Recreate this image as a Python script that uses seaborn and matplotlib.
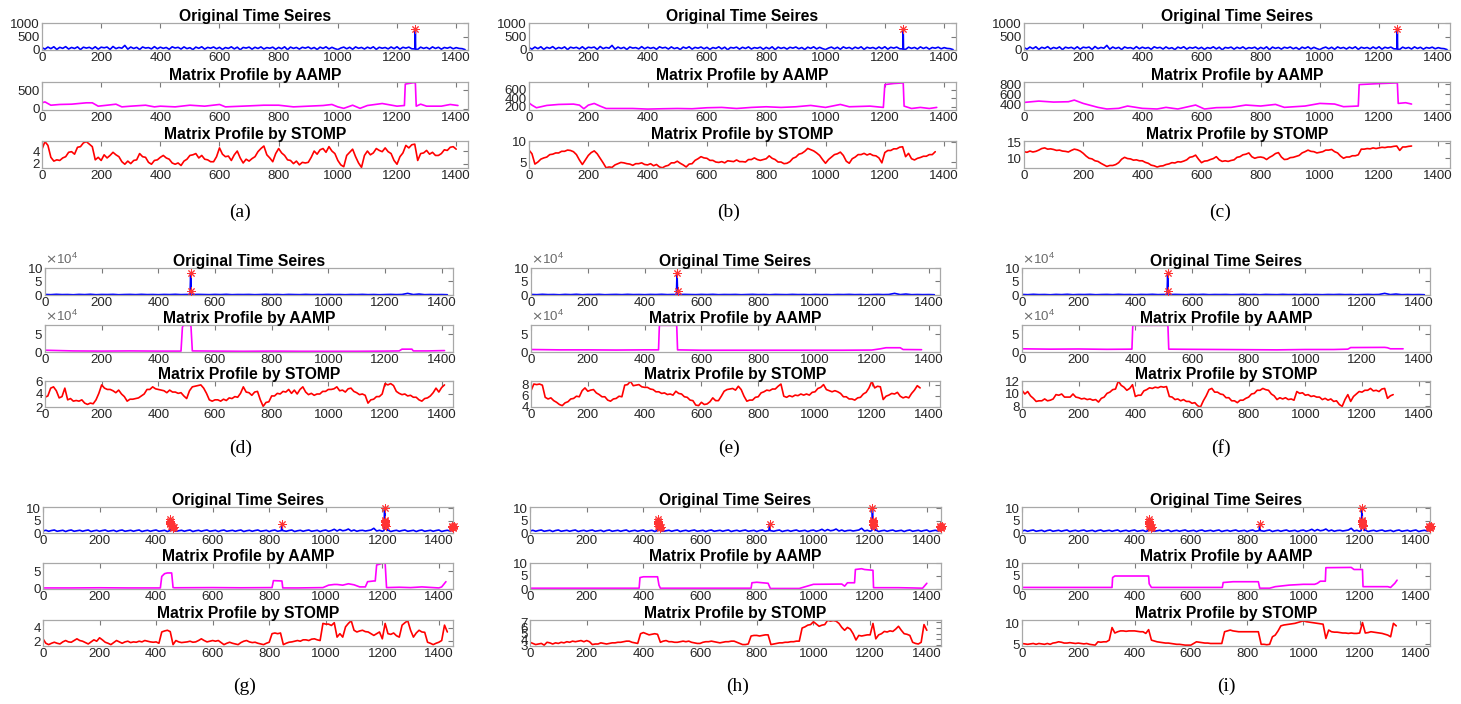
import numpy as np
import pandas as pd
import matplotlib
matplotlib.use("Agg")
import matplotlib.pyplot as plt
import seaborn as sns
from matplotlib.ticker import ScalarFormatter

# ---------------- data ----------------
# Original series 1 (panels a-c), sampled every 10 steps
ts1_y = [90, 30, 110, 50, 120, 20, 100, 60, 125, 35, 95, 55, 115, 15, 105, 70, 100, 40, 120, 30,
         105, 80, 110, 20, 130, 50, 95, 65, 170, 30, 110, 55, 100, 18, 112, 70, 90, 40, 125, 45,
         105, 60, 95, 25, 118, 72, 100, 35, 115, 50, 88, 15, 108, 62, 120, 32, 98, 66, 112, 44,
         100, 22, 92, 58, 118, 40, 105, 8, 96, 70, 108, 30, 102, 55, 115, 36, 90, 64, 106, 26,
         98, 44, 118, 12, 108, 58, 96, 32, 102, 68, 112, 44, 94, 18, 106, 58, 118, 38, 100, 50,
         15, 72, 108, 44, 102, 26, 115, 62, 96, 36, 106, 56, 118, 22, 102, 64, 94, 40, 112, 50,
         120, 30, 102, 68, 108, 44, 100, 22, 106, 58, 96, 36, 115, 56, 102, 30, 94, 66, 106, 44,
         88, 58, 50, 15]
ts1_spike_x = [1261, 1262, 1263]
ts1_spike_y = [40, 780, 30]
ts1_star_x = [1262]
ts1_star_y = [780]

# Original series 2 (panels d-f), sampled every 20 steps
ts2_y = [2000, 1200, 2500, 1500, 1800, 900, 2200, 1400, 2600, 1100, 1900, 1600, 2300, 1000, 1700, 2100, 1300, 2400, 1500, 1800,
         1200, 2000, 1600, 2500, 1400, 1900, 1000, 2200, 1700, 1300, 2100, 1500, 2400, 1200, 1800, 1600, 2000, 1100, 1700, 2300,
         1400, 1900, 1000, 2100, 1600, 1300, 2200, 1500, 1800, 1200, 2000, 1400, 1700, 1100, 1900, 1500, 2200, 1300, 1800, 1000,
         1600, 2100, 1400, 1900, 6000, 1500, 3500, 1200, 1800, 1300, 1600, 1000]
ts2_spike_x = [512, 514, 516, 518]
ts2_spike_y = [1500, 80000, 16000, 1500]
ts2_star_x = [514, 516]
ts2_star_y = [80000, 16000]

# Original series 3 (panels g-i), sampled every 10 steps
ts3_y = [0.8, 1.1, 0.7, 1.0, 1.2, 0.7, 0.9, 1.1, 0.6, 1.0, 1.2, 0.7, 0.9, 1.1, 0.7, 1.0, 1.2, 0.6, 0.9, 1.1,
         0.7, 1.0, 1.2, 0.7, 0.9, 1.1, 0.6, 1.0, 1.2, 0.7, 0.9, 1.1, 0.7, 1.0, 1.2, 0.6, 0.9, 1.1, 0.7, 1.0,
         1.2, 0.7, 0.9, 1.1, 0.6, 1.0, 1.2, 0.7, 0.9, 1.1, 0.7, 1.0, 1.2, 0.6, 0.9, 1.1, 0.7, 1.0, 1.2, 0.7,
         0.9, 1.1, 0.6, 1.0, 1.2, 0.7, 0.9, 1.1, 0.7, 1.0, 1.2, 0.6, 0.9, 1.1, 0.7, 1.0, 1.2, 0.7, 0.9, 1.1,
         0.6, 1.0, 1.2, 0.7, 0.9, 1.1, 0.7, 1.0, 1.2, 0.6, 0.9, 1.1, 0.7, 1.0, 1.2, 0.7, 0.9, 1.1, 0.6, 1.0,
         1.2, 0.7, 1.0, 1.5, 0.8, 1.4, 0.9, 1.1, 1.6, 0.8, 1.2, 0.7, 1.0, 1.1, 0.8, 1.0, 1.2, 1.9, 0.8, 1.1,
         0.7, 1.0, 1.2, 0.6, 0.9, 1.1, 0.7, 1.0, 1.2, 0.7, 0.9, 1.1, 0.6, 1.0, 1.2, 0.7, 0.9, 1.1, 0.7, 1.0,
         1.2, 0.6, 0.9, 1.1, 0.8]
ts3_spike_x = [449, 450, 451, 455, 457, 460, 462, 843, 845, 847, 1206, 1208, 1210, 1212, 1214, 1216, 1446, 1448]
ts3_spike_y = [1.0, 5.5, 1.0, 2.8, 1.0, 2.5, 1.0, 1.0, 3.8, 1.0, 1.0, 10.2, 5.0, 3.5, 3.0, 1.0, 1.0, 2.8]
ts3_star_x = [450, 450, 450, 450, 450, 452, 455, 458, 460, 462, 845,
              1208, 1209, 1209, 1210, 1210, 1211, 1212, 1446, 1448, 1450, 1452, 1449, 1451]
ts3_star_y = [5.5, 5.0, 4.5, 4.0, 3.5, 3.0, 2.8, 2.5, 2.2, 2.5, 3.8,
              10.2, 5.2, 4.8, 4.3, 3.8, 3.3, 2.8, 2.6, 2.9, 2.5, 2.8, 2.2, 2.4]

# AAMP matrix profiles (breakpoints)
a_aamp_x = [0, 10, 30, 60, 100, 150, 170, 190, 220, 250, 270, 300, 350, 380, 400, 450, 500, 550, 600, 620, 700, 750,
            800, 850, 900, 950, 980, 1000, 1020, 1050, 1075, 1100, 1150, 1200, 1225, 1228, 1255, 1262, 1265, 1280,
            1300, 1350, 1380, 1406]
a_aamp_y = [155, 180, 90, 110, 118, 155, 155, 64, 90, 118, 45, 64, 90, 45, 64, 45, 90, 64, 110, 45, 72, 90,
            90, 45, 64, 82, 110, 45, 5, 90, 5, 82, 136, 64, 82, 664, 700, 700, 64, 118,
            64, 64, 110, 82]
b_aamp_x = [0, 10, 25, 40, 60, 100, 150, 170, 185, 200, 220, 240, 260, 300, 350, 400, 450, 500, 550, 600,
            650, 700, 750, 800, 850, 900, 950, 1000, 1050, 1080, 1150, 1195, 1200, 1230, 1262, 1265, 1290, 1320,
            1350, 1375]
b_aamp_y = [290, 238, 177, 200, 231, 254, 262, 238, 154, 238, 277, 215, 160, 160, 160, 146, 154, 160, 154, 177,
            185, 160, 185, 200, 185, 200, 231, 185, 254, 200, 215, 185, 715, 740, 754, 215, 160, 185,
            160, 185]
c_aamp_x = [0, 50, 100, 150, 170, 200, 250, 280, 320, 350, 400, 450, 480, 520, 580, 610, 650, 700, 750, 800,
            850, 880, 950, 1000, 1050, 1080, 1130, 1133, 1200, 1262, 1265, 1290, 1310]
c_aamp_y = [433, 460, 440, 447, 480, 413, 333, 300, 313, 360, 313, 300, 333, 300, 380, 300, 327, 333, 380, 360,
            393, 333, 360, 413, 400, 347, 360, 793, 813, 827, 413, 427, 400]
d_aamp_x = [0, 50, 100, 200, 300, 400, 480, 485, 488, 512, 515, 520, 600, 700, 800, 900, 1000, 1100, 1200, 1250,
            1260, 1295, 1300, 1350, 1410]
d_aamp_y = [5000, 4000, 3000, 2500, 3000, 2500, 2500, 70000, 75000, 75000, 75000, 3000, 2500, 2000, 2500, 2000, 2000,
            2000, 2500, 3000, 8000, 8000, 3000, 3000, 4000]
e_aamp_x = [0, 100, 200, 300, 400, 449, 452, 513, 516, 600, 700, 800, 900, 1000, 1100, 1200, 1230, 1250, 1300,
            1310, 1375]
e_aamp_y = [7000, 6000, 6000, 5500, 6000, 6000, 75000, 75000, 6000, 5000, 5000, 5000, 5000, 5000, 5000, 5500, 9000,
            12000, 12000, 7000, 6500]
f_aamp_x = [0, 100, 200, 300, 385, 388, 391, 515, 518, 600, 700, 800, 900, 1000, 1100, 1150, 1160, 1280, 1290,
            1300, 1345]
f_aamp_y = [9000, 8000, 8500, 7500, 8000, 8000, 75000, 75000, 8000, 7500, 7000, 6500, 6000, 7000, 7000, 8000, 12500,
            13000, 12000, 9000, 9000]
g_aamp_x = [0, 100, 200, 300, 415, 420, 430, 440, 455, 460, 465, 600, 700, 810, 815, 845, 848, 900, 990, 1010,
            1030, 1040, 1060, 1080, 1100, 1120, 1140, 1148, 1170, 1175, 1180, 1190, 1200, 1210, 1215, 1260, 1300,
            1340, 1400, 1410, 1425]
g_aamp_y = [0.2, 0.2, 0.25, 0.2, 0.2, 3.5, 4.3, 4.5, 4.5, 0.3, 0.25, 0.3, 0.25, 0.3, 2.3, 2.2, 0.2, 0.2, 0.3, 1.0,
            1.2, 1.2, 1.0, 1.4, 1.1, 0.5, 0.5, 2.0, 2.2, 2.2, 6.8, 7.0, 7.3, 7.3, 0.3, 0.4, 0.3,
            0.5, 0.2, 0.5, 2.0]
h_aamp_x = [0, 200, 385, 388, 400, 450, 455, 460, 600, 780, 783, 800, 840, 848, 950, 1000, 1100, 1110, 1120, 1145,
            1148, 1170, 1180, 1210, 1212, 1300, 1350, 1385, 1400]
h_aamp_y = [0.3, 0.3, 0.3, 4.4, 4.7, 4.7, 1.5, 0.3, 0.3, 0.3, 2.4, 2.6, 2.2, 0.2, 0.2, 1.8, 1.9, 1.1, 2.4, 2.4,
            7.5, 7.8, 7.5, 7.2, 0.5, 0.5, 0.4, 0.3, 2.2]
i_aamp_x = [0, 200, 320, 322, 330, 450, 452, 460, 600, 712, 715, 750, 840, 845, 880, 900, 950, 1000, 1040, 1050,
            1060, 1078, 1080, 1170, 1180, 1210, 1212, 1300, 1310, 1325, 1333]
i_aamp_y = [0.6, 0.6, 0.6, 4.4, 5.0, 5.0, 2.0, 0.6, 0.6, 0.6, 2.5, 2.8, 2.8, 0.3, 0.3, 0.9, 1.5, 1.8, 1.8, 2.2,
            3.0, 3.0, 8.2, 8.3, 7.5, 7.5, 0.9, 0.9, 0.6, 2.2, 3.4]

# STOMP matrix profiles, sampled every 10 steps from index 0
a_stomp_y = [4.3, 5.5, 4.9, 3.0, 2.4, 2.6, 2.5, 2.9, 3.1, 3.8,
             3.9, 3.5, 4.6, 4.7, 5.3, 5.5, 5.1, 4.7, 2.6, 3.0,
             2.5, 3.4, 2.9, 3.3, 3.8, 3.4, 3.1, 2.3, 1.9, 2.4,
             2.0, 2.5, 2.6, 3.6, 3.1, 3.0, 2.2, 1.9, 2.5, 2.6,
             3.0, 3.3, 2.9, 2.7, 2.1, 1.9, 2.1, 1.7, 2.4, 2.7,
             3.3, 3.4, 3.6, 2.9, 3.3, 2.7, 2.6, 2.3, 2.3, 3.1,
             4.5, 3.5, 3.1, 3.2, 2.5, 3.4, 4.0, 2.9, 2.1, 2.7,
             2.4, 2.8, 3.1, 3.9, 4.4, 4.8, 3.4, 2.9, 2.3, 3.6,
             4.4, 3.7, 3.3, 2.6, 2.5, 2.0, 2.4, 1.8, 2.2, 2.1,
             2.2, 3.0, 4.0, 3.5, 4.2, 4.4, 3.8, 4.7, 4.0, 3.6,
             2.5, 1.8, 1.5, 3.3, 3.8, 4.3, 3.1, 2.1, 1.4, 3.3,
             4.0, 3.4, 3.7, 4.4, 4.1, 3.9, 4.5, 3.9, 3.6, 2.5,
             1.9, 3.1, 3.7, 4.9, 4.5, 5.0, 5.1, 2.5, 3.6, 3.7,
             4.1, 3.5, 3.8, 3.3, 3.3, 3.6, 4.2, 4.1, 4.6, 4.7,
             4.3]
b_stomp_y = [8.0, 7.1, 4.6, 5.1, 5.8, 6.1, 6.3, 6.9, 7.0, 7.3,
             7.3, 7.7, 7.7, 8.0, 7.9, 7.6, 6.9, 5.6, 4.5, 5.6,
             6.7, 7.4, 7.8, 7.1, 6.0, 4.9, 3.7, 3.9, 3.8, 4.4,
             4.7, 5.0, 4.9, 4.7, 4.6, 4.3, 4.7, 4.7, 4.9, 4.5,
             4.4, 4.7, 4.2, 4.5, 3.9, 3.7, 4.1, 4.3, 4.9, 4.9,
             5.3, 4.8, 4.4, 3.9, 4.6, 4.7, 5.5, 5.9, 6.4, 6.1,
             6.0, 5.5, 5.5, 5.1, 5.0, 5.2, 4.9, 5.4, 5.3, 5.2,
             5.6, 5.2, 5.2, 5.1, 5.7, 5.7, 6.1, 5.7, 5.5, 5.7,
             5.9, 6.6, 6.0, 5.7, 5.1, 5.1, 4.7, 4.8, 5.2, 6.0,
             6.3, 7.0, 7.2, 7.7, 8.4, 8.1, 7.8, 7.3, 6.7, 5.7,
             4.8, 5.7, 6.3, 6.9, 7.1, 7.5, 6.7, 5.3, 4.8, 5.9,
             6.3, 6.9, 6.9, 7.2, 6.8, 7.1, 6.7, 6.6, 6.1, 4.9,
             7.4, 7.9, 7.9, 8.3, 8.3, 8.7, 8.8, 6.4, 7.2, 5.9,
             5.6, 6.0, 6.2, 6.5, 6.5, 6.9, 6.9, 7.6]
c_stomp_y = [12.1, 11.9, 12.3, 12.0, 12.2, 12.6, 13.1, 13.3, 12.9, 13.0,
             12.8, 12.5, 12.6, 12.3, 12.2, 12.0, 12.5, 12.9, 12.7, 12.3,
             11.6, 10.7, 10.0, 9.8, 9.2, 9.0, 8.4, 7.9, 7.4, 7.7,
             7.7, 8.0, 8.6, 9.7, 10.3, 9.9, 9.8, 9.4, 9.5, 9.2,
             9.2, 8.7, 8.4, 7.8, 7.6, 7.2, 7.5, 7.6, 8.0, 8.2,
             8.6, 8.5, 8.9, 8.8, 9.1, 9.5, 10.3, 10.5, 11.0, 9.7,
             8.6, 9.1, 9.2, 9.6, 9.9, 10.5, 9.5, 9.0, 9.2, 9.0,
             9.3, 9.5, 10.3, 10.5, 11.1, 11.3, 11.7, 10.5, 10.0, 10.3,
             10.4, 10.2, 9.6, 10.3, 10.8, 11.5, 11.8, 10.4, 9.6, 9.7,
             10.2, 10.3, 10.6, 10.9, 11.7, 12.1, 12.6, 12.2, 12.1, 11.7,
             11.9, 12.1, 12.6, 12.6, 12.8, 12.1, 11.7, 10.7, 10.0, 10.4,
             10.4, 10.8, 10.8, 11.1, 12.9, 12.9, 13.1, 13.0, 13.3, 13.1,
             13.3, 13.5, 13.4, 13.6, 13.6, 13.8, 13.9, 12.5, 13.6, 13.6,
             13.8, 13.9]
d_stomp_y = [3.5, 3.7, 4.9, 5.1, 4.5, 3.4, 3.6, 4.9, 3.1, 3.3,
             2.9, 3.0, 2.9, 3.1, 2.6, 2.4, 2.6, 2.5, 3.1, 4.1,
             5.4, 4.9, 4.7, 4.7, 4.5, 4.2, 4.6, 4.0, 3.6, 2.9,
             3.2, 3.2, 3.3, 3.4, 3.7, 4.0, 4.7, 4.7, 5.1, 4.8,
             4.7, 4.6, 4.5, 4.2, 4.6, 4.3, 4.3, 4.1, 4.2, 3.7,
             3.3, 4.5, 5.1, 5.2, 5.3, 5.4, 4.9, 4.1, 3.1, 2.9,
             3.1, 3.1, 2.9, 3.2, 3.0, 3.4, 3.3, 3.6, 3.5, 4.1,
             5.1, 4.3, 4.2, 3.8, 4.3, 4.4, 3.1, 2.1, 2.7, 2.8,
             3.7, 3.7, 4.1, 4.0, 4.4, 4.3, 4.7, 4.1, 4.6, 4.0,
             4.7, 5.1, 4.3, 3.9, 4.1, 3.8, 4.0, 4.0, 4.4, 4.4,
             4.7, 4.7, 4.8, 5.1, 4.5, 4.6, 4.3, 4.8, 4.9, 4.4,
             4.2, 3.9, 4.0, 3.8, 2.6, 3.1, 3.2, 3.6, 3.6, 4.0,
             5.6, 5.4, 5.6, 5.3, 4.4, 4.1, 3.9, 4.0, 3.7, 3.8,
             3.5, 3.5, 3.1, 2.9, 3.3, 3.4, 3.7, 4.2, 4.9, 4.3,
             5.0, 5.4]
e_stomp_y = [6.9, 8.1, 8.0, 8.1, 7.9, 5.7, 5.4, 5.6, 5.1, 4.8,
             4.4, 4.2, 4.7, 4.9, 5.4, 5.5, 5.9, 5.8, 6.9, 7.4,
             6.8, 7.0, 7.1, 6.5, 6.2, 5.8, 5.8, 5.2, 5.0, 5.4,
             5.5, 5.9, 5.8, 7.9, 8.0, 8.6, 7.8, 7.9, 8.0, 7.6,
             7.5, 7.5, 7.2, 7.1, 6.7, 6.7, 6.4, 6.5, 6.2, 6.3,
             6.1, 6.8, 6.4, 6.3, 5.8, 5.7, 5.2, 5.1, 4.3, 4.2,
             4.8, 4.4, 4.5, 4.9, 5.6, 5.1, 5.1, 5.9, 6.8, 7.1,
             7.2, 7.3, 7.0, 7.7, 7.1, 5.9, 5.0, 5.2, 5.2, 5.7,
             5.8, 6.5, 6.7, 7.0, 6.9, 7.2, 7.2, 7.7, 8.1, 5.9,
             5.7, 6.0, 5.8, 6.1, 6.0, 6.3, 6.1, 6.3, 6.1, 6.6,
             6.7, 7.3, 7.5, 8.0, 7.1, 6.9, 6.7, 6.9, 6.7, 6.4,
             5.8, 5.8, 5.4, 5.4, 5.2, 5.6, 5.7, 6.3, 6.6, 7.4,
             8.6, 7.4, 7.7, 7.6, 5.3, 5.9, 6.1, 6.4, 6.3, 6.6,
             5.9, 5.6, 5.8, 5.6, 6.4, 7.0, 7.8, 7.4]
f_stomp_y = [10.6, 10.0, 10.4, 9.7, 9.3, 8.8, 8.9, 8.9, 9.2, 8.9,
             9.0, 9.2, 9.9, 9.8, 10.0, 9.5, 9.5, 9.5, 10.0, 9.5,
             9.4, 9.2, 9.3, 9.1, 9.2, 9.0, 9.1, 8.7, 9.3, 9.5,
             10.1, 10.3, 10.7, 10.8, 12.1, 11.4, 11.1, 10.6, 10.9, 11.5,
             9.6, 9.8, 9.8, 10.5, 10.7, 11.0, 10.9, 11.1, 11.0, 11.2,
             11.1, 11.2, 9.6, 9.5, 9.1, 9.2, 8.9, 9.1, 8.8, 8.8,
             8.5, 8.6, 8.1, 7.9, 8.9, 9.7, 10.7, 10.9, 10.3, 10.3,
             10.0, 9.9, 9.4, 9.4, 8.9, 8.9, 8.6, 9.0, 9.0, 9.3,
             9.5, 10.0, 10.1, 10.6, 10.6, 10.9, 10.7, 10.6, 10.0, 9.7,
             9.1, 9.4, 9.2, 9.4, 9.1, 9.2, 9.0, 10.4, 10.1, 10.2,
             9.8, 9.9, 9.6, 9.7, 9.5, 9.5, 9.1, 9.3, 9.0, 9.2,
             8.8, 8.9, 8.3, 8.0, 9.1, 9.9, 8.8, 9.6, 10.0, 10.4,
             10.3, 10.6, 10.6, 10.9, 10.5, 10.6, 10.4, 10.8, 10.9, 9.3,
             9.7, 9.9]
g_stomp_y = [2.35, 1.7, 1.5, 1.7, 1.85, 1.7, 1.6, 1.9, 2.1, 1.9,
             1.85, 2.1, 2.35, 2.1, 2.0, 1.8, 1.6, 1.9, 2.2, 2.0,
             2.5, 2.2, 1.85, 1.7, 1.5, 1.8, 2.1, 1.9, 1.7, 1.9,
             2.0, 1.8, 1.9, 1.85, 2.0, 1.9, 2.1, 2.0, 1.9, 1.85,
             1.9, 1.7, 3.35, 3.5, 3.6, 3.4, 1.5, 2.1, 1.9, 1.8,
             1.85, 1.9, 2.0, 1.85, 1.9, 2.1, 2.35, 2.1, 1.9, 2.0,
             2.1, 2.0, 2.1, 1.8, 1.5, 1.7, 1.85, 1.7, 1.6, 1.5,
             1.8, 2.0, 2.1, 1.9, 1.8, 1.85, 1.7, 1.6, 1.5, 1.7,
             1.85, 3.1, 3.2, 3.1, 3.2, 1.5, 1.7, 1.85, 1.9, 2.0,
             2.1, 2.0, 2.2, 2.2, 2.1, 2.3, 2.35, 2.2, 2.1, 4.6,
             4.5, 4.5, 4.3, 4.7, 2.6, 3.1, 2.6, 4.1, 4.6, 5.0,
             3.6, 3.35, 3.5, 3.6, 3.4, 3.35, 3.1, 2.85, 3.1, 3.35,
             2.35, 4.6, 3.1, 3.0, 3.2, 2.8, 2.6, 4.35, 4.7, 5.0,
             3.6, 2.6, 3.2, 3.6, 3.35, 3.3, 1.85, 1.7, 1.5, 1.7,
             1.85, 2.1, 4.35, 3.35]
h_stomp_y = [3.5, 3.3, 3.1, 3.2, 3.3, 3.0, 3.5, 3.4, 3.2, 3.4,
             3.3, 3.5, 3.4, 3.6, 3.5, 3.7, 3.6, 3.7, 3.8, 3.6,
             3.8, 3.6, 3.1, 3.2, 3.2, 3.4, 3.3, 3.2, 3.3, 3.4,
             3.4, 3.5, 3.5, 3.6, 3.7, 3.7, 3.5, 3.4, 3.3, 5.0,
             5.2, 5.0, 4.8, 4.9, 5.0, 4.9, 3.5, 3.7, 3.8, 3.6,
             3.6, 3.5, 3.5, 3.6, 3.7, 3.6, 3.7, 3.5, 3.4, 3.3,
             3.3, 3.5, 3.6, 3.6, 3.7, 3.6, 3.5, 3.4, 3.5, 3.6,
             3.6, 3.7, 3.7, 3.5, 3.3, 3.1, 3.1, 3.2, 4.6, 4.7,
             4.7, 4.6, 4.7, 4.8, 4.8, 3.1, 3.2, 3.3, 3.4, 3.4,
             3.5, 3.5, 3.6, 3.6, 3.7, 3.7, 6.0, 6.2, 6.5, 6.6,
             7.1, 6.7, 6.3, 6.5, 6.6, 7.35, 7.2, 7.3, 7.2, 6.8,
             6.1, 5.6, 6.1, 5.8, 5.0, 3.9, 4.7, 4.6, 4.7, 4.8,
             4.8, 6.8, 4.1, 4.8, 5.0, 5.4, 5.3, 5.5, 5.4, 5.8,
             6.3, 5.6, 5.0, 4.9, 4.7, 3.5, 3.3, 3.2, 3.5, 6.6,
             5.6]
i_stomp_y = [5.2, 5.1, 5.0, 5.1, 5.2, 5.0, 5.2, 5.1, 5.0, 5.2,
             5.0, 5.3, 5.4, 5.6, 5.5, 5.3, 5.3, 5.4, 5.3, 5.2,
             5.3, 5.2, 5.1, 5.2, 5.0, 4.9, 4.8, 5.6, 5.5, 5.6,
             5.6, 6.0, 9.0, 7.7, 8.0, 8.2, 8.2, 8.1, 8.2, 8.2,
             8.2, 8.1, 8.0, 8.0, 7.6, 8.5, 6.0, 5.8, 5.6, 5.5,
             5.4, 5.3, 5.3, 5.2, 5.1, 5.0, 5.0, 4.9, 4.8, 4.8,
             4.8, 5.2, 5.6, 5.5, 5.4, 5.3, 5.3, 5.2, 5.2, 5.2,
             5.2, 5.2, 8.0, 8.2, 8.4, 8.2, 8.1, 8.0, 8.0, 8.0,
             8.0, 8.0, 8.0, 8.0, 8.0, 5.0, 5.0, 4.9, 5.0, 6.8,
             7.2, 8.2, 9.4, 9.6, 9.7, 9.8, 9.9, 10.0, 10.2, 10.4,
             10.6, 10.4, 10.3, 10.2, 10.1, 10.0, 9.9, 9.8, 6.4, 8.4,
             8.0, 7.9, 7.9, 7.8, 7.7, 7.7, 7.6, 7.7, 7.6, 7.6,
             7.7, 10.2, 7.7, 7.8, 8.0, 7.9, 7.8, 7.7, 7.6, 7.4,
             7.2, 6.8, 10.0, 9.4]
STOMP_STEP = 10

titles = ["Original Time Seires", "Matrix Profile by AAMP", "Matrix Profile by STOMP"]
captions = ["(a)", "(b)", "(c)", "(d)", "(e)", "(f)", "(g)", "(h)", "(i)"]
xtick_vals = [0, 200, 400, 600, 800, 1000, 1200, 1400]

# ---------------- build series ----------------
def merge(base_y, step, sx, sy):
    bx = list(np.arange(len(base_y)) * step)
    pts = [(x, y) for x, y in zip(bx, base_y) if min(abs(x - s) for s in sx) > 3]
    pts += list(zip(sx, sy))
    pts.sort(key=lambda p: p[0])
    return [p[0] for p in pts], [p[1] for p in pts]

ts1_x_all, ts1_y_all = merge(ts1_y, 10, ts1_spike_x, ts1_spike_y)
ts2_x_all, ts2_y_all = merge(ts2_y, 20, ts2_spike_x, ts2_spike_y)
ts3_x_all, ts3_y_all = merge(ts3_y, 10, ts3_spike_x, ts3_spike_y)

orig = [(ts1_x_all, ts1_y_all, ts1_star_x, ts1_star_y),
        (ts2_x_all, ts2_y_all, ts2_star_x, ts2_star_y),
        (ts3_x_all, ts3_y_all, ts3_star_x, ts3_star_y)]
aamp = [(a_aamp_x, a_aamp_y), (b_aamp_x, b_aamp_y), (c_aamp_x, c_aamp_y),
        (d_aamp_x, d_aamp_y), (e_aamp_x, e_aamp_y), (f_aamp_x, f_aamp_y),
        (g_aamp_x, g_aamp_y), (h_aamp_x, h_aamp_y), (i_aamp_x, i_aamp_y)]
stomp_ys = [a_stomp_y, b_stomp_y, c_stomp_y, d_stomp_y, e_stomp_y, f_stomp_y, g_stomp_y, h_stomp_y, i_stomp_y]
stomp = [(list(np.arange(len(v)) * STOMP_STEP), v) for v in stomp_ys]

ylims = [
    [(0, 1000), (-40, 720), (1.3, 5.6)],
    [(0, 1000), (125, 775), (3.65, 10.2)],
    [(0, 1000), (280, 845), (6.9, 15.5)],
    [(0, 100000), (0, 76000), (2.0, 6.0)],
    [(0, 100000), (0, 76000), (3.95, 8.65)],
    [(0, 100000), (0, 76000), (7.9, 12.1)],
    [(0, 10.5), (-0.1, 7.35), (1.3, 5.1)],
    [(0, 10.5), (0, 10), (2.85, 7.4)],
    [(0, 10.5), (0, 10), (4.6, 10.8)],
]
yticks = [
    [[0, 500, 1000], [0, 500], [2, 4]],
    [[0, 500, 1000], [200, 400, 600], [5, 10]],
    [[0, 500, 1000], [400, 600, 800], [10, 15]],
    [[0, 50000, 100000], [0, 50000], [2, 4, 6]],
    [[0, 50000, 100000], [0, 50000], [4, 6, 8]],
    [[0, 50000, 100000], [0, 50000], [8, 10, 12]],
    [[0, 5, 10], [0, 5], [2, 4]],
    [[0, 5, 10], [0, 5, 10], [3, 4, 5, 6, 7]],
    [[0, 5, 10], [0, 5, 10], [5, 10]],
]

# ---------------- figure ----------------
sns.set_theme(style="white")
plt.rcParams["font.family"] = ["Liberation Sans", "DejaVu Sans"]

W, H = 1461, 704
fig = plt.figure(figsize=(W / 100, H / 100), dpi=100)
fig.patch.set_facecolor("white")

ROW_Y = [[(23, 50), (82, 110), (141, 168)],
         [(268, 295), (325, 352), (381, 407)],
         [(507, 533), (563, 589), (620, 646)]]
COL_X = [[(42, 468), (529, 956), (1024, 1450)],
         [(45, 453), (531, 940), (1022, 1430)],
         [(43, 453), (530, 941), (1022, 1430)]]
XMAX = [1440, 1440, 1450]
CAP_POS = [(240, 212), (729, 212), (1220, 212),
           (241, 448), (729, 448), (1221, 448),
           (245, 686), (738, 686), (1226, 686)]
TICK_FS = 9.6
TITLE_FS = 11.3

def make_ax(l, r, t, b):
    return fig.add_axes([l / W, 1 - b / H, (r - l) / W, (b - t) / H])

def style(ax, xmax, ylim, ticks, title, sci=False):
    ax.set_xlim(0, xmax)
    ax.set_ylim(*ylim)
    ax.set_xticks(xtick_vals)
    ax.set_yticks(ticks)
    ax.set_xlabel("")
    ax.set_ylabel("")
    for sp in ax.spines.values():
        sp.set_color("#a8a8a8")
        sp.set_linewidth(0.9)
    ax.tick_params(direction="in", top=True, right=True, length=3.5, width=0.8,
                   color="#7a7a7a", labelsize=TICK_FS, labelcolor="#262626", pad=1.5)
    if sci:
        fmt = ScalarFormatter(useMathText=True)
        fmt.set_powerlimits((4, 4))
        ax.yaxis.set_major_formatter(fmt)
        ot = ax.yaxis.get_offset_text()
        ot.set_fontsize(TICK_FS)
        ot.set_color("#6a6a6a")
    ax.set_title(title, fontsize=TITLE_FS, fontweight="bold", pad=1.5, color="black")

def line(ax, x, y, color):
    df = pd.DataFrame({"x": x, "y": y})
    sns.lineplot(data=df, x="x", y="y", ax=ax, color=color, linewidth=1.2,
                 estimator=None, sort=False, legend=False)

for p in range(9):
    r, c = divmod(p, 3)
    xmax = XMAX[r]
    boxes = [make_ax(COL_X[r][c][0], COL_X[r][c][1], ROW_Y[r][k][0], ROW_Y[r][k][1]) for k in range(3)]
    sci = (r == 1)
    ox, oy, sx, sy = orig[r]
    line(boxes[0], ox, oy, "#0000ff")
    sns.scatterplot(x=sx, y=sy, ax=boxes[0], marker=(8, 2, 0), color="#ff3333", s=30,
                    linewidth=0.7, zorder=4, clip_on=False, legend=False)
    style(boxes[0], xmax, ylims[p][0], yticks[p][0], titles[0], sci=sci)
    line(boxes[1], aamp[p][0], aamp[p][1], "#ff00ff")
    style(boxes[1], xmax, ylims[p][1], yticks[p][1], titles[1], sci=sci)
    line(boxes[2], stomp[p][0], stomp[p][1], "#ff0000")
    style(boxes[2], xmax, ylims[p][2], yticks[p][2], titles[2])
    fig.text(CAP_POS[p][0] / W, 1 - CAP_POS[p][1] / H, captions[p], ha="center", va="center",
             fontsize=14, family=["Liberation Serif", "DejaVu Serif"], color="black")

fig.savefig("out.png", dpi=100, facecolor="white")
